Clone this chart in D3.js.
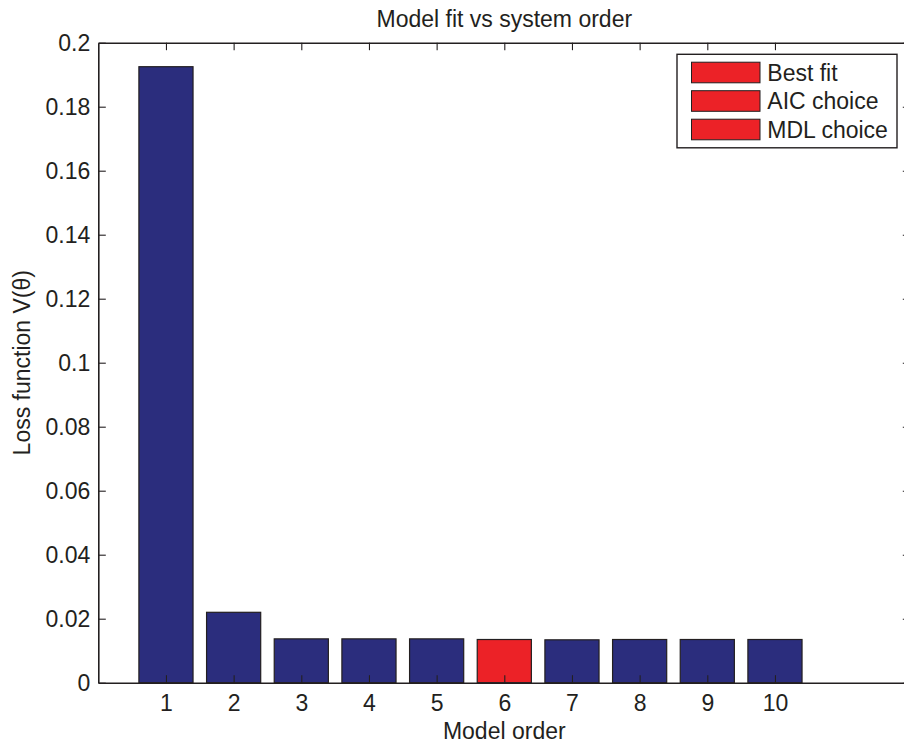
<!DOCTYPE html>
<html>
<head>
<meta charset="utf-8">
<script src="https://cdn.jsdelivr.net/npm/d3@7"></script>
<style>
  html, body { margin: 0; padding: 0; background: #fff; }
  svg { display: block; font-family: "Liberation Sans", Arial, sans-serif; }
</style>
</head>
<body>
<svg id="chart" width="904" height="744"></svg>
<script>
const orders = [1, 2, 3, 4, 5, 6, 7, 8, 9, 10];
const lossValues = [0.1925, 0.022, 0.0137, 0.0137, 0.0137, 0.0135, 0.0134, 0.0135, 0.0135, 0.0135];
const highlightOrders = [6];
const yTicks = [0, 0.02, 0.04, 0.06, 0.08, 0.1, 0.12, 0.14, 0.16, 0.18, 0.2];
const yTickLabels = ["0", "0.02", "0.04", "0.06", "0.08", "0.1", "0.12", "0.14", "0.16", "0.18", "0.2"];
const legendLabels = ["Best fit", "AIC choice", "MDL choice"];
const titleText = "Model fit vs system order";
const xLabelText = "Model order";
const yLabelText = "Loss function V(\u03b8)";

const navy = "#2b2d7d";
const red = "#ec2227";
const ink = "#231f20";
const fontSize = 23;

const svg = d3.select("#chart");
const pLeft = 98.3, pTop = 42.7, pRight = 910.3, pBottom = 682.7;

const x = d3.scaleLinear().domain([0, 12]).range([pLeft, pRight]);
const y = d3.scaleLinear().domain([0, 0.2]).range([pBottom, pTop]);

// bars
const barHalf = 0.4;
svg.append("g").selectAll("rect").data(orders).join("rect")
  .attr("x", (d) => x(d - barHalf))
  .attr("width", (d) => x(d + barHalf) - x(d - barHalf))
  .attr("y", (d, i) => y(lossValues[i]))
  .attr("height", (d, i) => y(0) - y(lossValues[i]))
  .attr("fill", (d) => highlightOrders.includes(d) ? red : navy)
  .attr("stroke", ink)
  .attr("stroke-width", 1.2);

// axes
const tickLen = 7.5;
const yAxisL = d3.axisLeft(y).tickValues(yTicks).tickFormat((d, i) => yTickLabels[i])
  .tickSizeInner(-tickLen).tickSizeOuter(0).tickPadding(8);
const gL = svg.append("g").attr("transform", `translate(${pLeft},0)`).call(yAxisL);

const yAxisR = d3.axisRight(y).tickValues(yTicks).tickFormat("")
  .tickSizeInner(-tickLen).tickSizeOuter(0);
const gR = svg.append("g").attr("transform", `translate(${pRight},0)`).call(yAxisR);

const xAxisB = d3.axisBottom(x).tickValues(orders).tickFormat(d3.format("d"))
  .tickSizeInner(-tickLen).tickSizeOuter(0).tickPadding(12);
const gB = svg.append("g").attr("transform", `translate(0,${pBottom})`).call(xAxisB);

const xAxisT = d3.axisTop(x).tickValues(orders).tickFormat("")
  .tickSizeInner(-tickLen).tickSizeOuter(0);
const gT = svg.append("g").attr("transform", `translate(0,${pTop})`).call(xAxisT);

[gL, gR, gB, gT].forEach((g) => {
  g.select(".domain").attr("stroke", ink).attr("stroke-width", 1.6);
  g.selectAll(".tick line").attr("stroke", ink).attr("stroke-width", 1.1);
  g.selectAll(".tick text").attr("fill", ink).attr("font-size", fontSize)
    .attr("font-family", '"Liberation Sans", Arial, sans-serif');
});
gL.selectAll(".tick text").attr("dy", "0.36em");

// title & labels
const midX = (pLeft + pRight) / 2;
svg.append("text").attr("x", midX).attr("y", 26.5).attr("text-anchor", "middle")
  .attr("font-size", fontSize).attr("fill", ink).text(titleText);
svg.append("text").attr("x", midX).attr("y", 738.5).attr("text-anchor", "middle")
  .attr("font-size", fontSize).attr("fill", ink).text(xLabelText);
svg.append("text").attr("transform", `translate(29.5,${(pTop + pBottom) / 2}) rotate(-90)`)
  .attr("text-anchor", "middle").attr("font-size", fontSize).attr("fill", ink).text(yLabelText);

// legend
const lg = svg.append("g");
const lgX = 677, lgY = 54.3, lgW = 220, lgH = 93.5;
lg.append("rect").attr("x", lgX).attr("y", lgY).attr("width", lgW).attr("height", lgH)
  .attr("fill", "#fff").attr("stroke", ink).attr("stroke-width", 1.4);
const rowY = d3.scaleLinear().domain([0, 2]).range([72.5, 129.5]);
legendLabels.forEach((lab, i) => {
  lg.append("rect").attr("x", 691.5).attr("y", rowY(i) - 10.3).attr("width", 68.5).attr("height", 20.6)
    .attr("fill", red).attr("stroke", ink).attr("stroke-width", 1);
  lg.append("text").attr("x", 767.3).attr("y", rowY(i) + 8.3).attr("font-size", fontSize)
    .attr("fill", ink).text(lab);
});
</script>
</body>
</html>
